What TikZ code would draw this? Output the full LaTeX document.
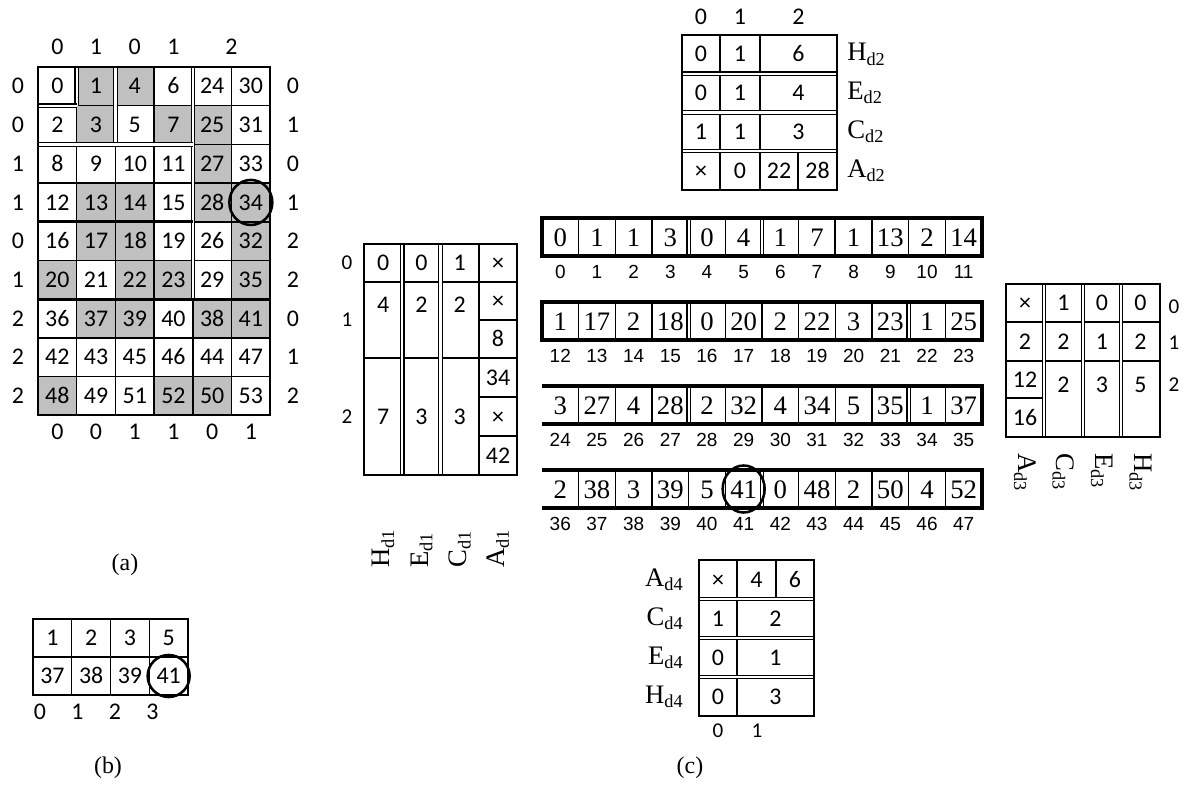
\documentclass[tikz,border=0pt]{standalone}
\usepackage{fontspec}
\setmainfont{Carlito}
\newfontfamily\serifnum{Liberation Serif}
\newfontfamily\arialnum{Liberation Sans}
\definecolor{Shade}{HTML}{C0C0C0}
\newcommand\dlab[2]{#1\raisebox{-0.35ex}{\fontsize{13}{13}\selectfont #2}}
\tikzset{
    cellnum/.style={inner sep=0pt, text height=10.8pt, text depth=0pt, font=\fontsize{17}{17}\selectfont},
    lblnum/.style={inner sep=0pt, text height=9.5pt, text depth=0pt, font=\fontsize{15}{15}\selectfont},
    arraynum/.style={inner sep=0pt, text height=12.8pt, text depth=0pt, font=\serifnum\fontsize{19}{19}\selectfont},
    idxnum/.style={inner sep=0pt, text height=9.7pt, text depth=0pt, font=\arialnum\fontsize{13.5}{13.5}\selectfont},
    dname/.style={inner sep=0pt, font=\serifnum\fontsize{19}{19}\selectfont},
    caption/.style={inner sep=0pt, font=\serifnum\fontsize{17}{17}\selectfont},
    gridline/.style={line width=1pt},
    border/.style={line width=1.5pt},
    bar/.style={line width=2.2pt},
    dbl/.style={double, double distance=1.6pt, line width=0.8pt},
    ring/.style={line width=1.8pt},
}

\begin{document}
\begin{tikzpicture}[x=0.025cm, y=-0.025cm]
    \useasboundingbox (0,0) rectangle (1183,794);

    % (a) grid
    \foreach \cc/\rr in {1/0,2/0,1/1,3/1,4/1,4/2,1/3,2/3,4/3,5/3,1/4,2/4,5/4,0/5,2/5,3/5,5/5,1/6,2/6,4/6,5/6,0/8,3/8,4/8}
        \fill[Shade] (38+\cc*38.7, 67+\rr*38.7) rectangle ++(38.7,38.7);
    \foreach \kk in {1,...,5}
        \draw[gridline] (38+\kk*38.7, 67) -- ++(0,348.3);
    \foreach \kk in {1,...,8}
        \draw[gridline] (38, 67+\kk*38.7) -- ++(232.2,0);
    \draw[dbl] (76.7,67) -- ++(0,38.7);
    \draw[dbl] (115.4,67) -- ++(0,77.4);
    \draw[dbl] (192.8,67) -- ++(0,232.2);
    \draw[dbl] (38,105.7) -- ++(38.7,0);
    \draw[dbl] (38,144.4) -- ++(154.8,0);
    \draw[bar] (38,221.8) -- ++(154.8,0);
    \draw[bar] (38,299.2) -- ++(232.2,0);
    \draw[border] (38,67) rectangle ++(232.2,348.3);
    \foreach \vals [count=\rr from 0] in {{0,1,4,6,24,30},{2,3,5,7,25,31},{8,9,10,11,27,33},{12,13,14,15,28,34},{16,17,18,19,26,32},{20,21,22,23,29,35},{36,37,39,40,38,41},{42,43,45,46,44,47},{48,49,51,52,50,53}}
        \foreach \vv [count=\cc from 0] in \vals
            \node[cellnum] (a-\rr-\cc) at (57.35+\cc*38.7, 86.35+\rr*38.7) {\vv};
    \foreach \vv [count=\rr from 0] in {0,0,1,1,0,1,2,2,2}
        \node[cellnum] (al-\rr) at (18, 86.35+\rr*38.7) {\vv};
    \foreach \vv [count=\rr from 0] in {0,1,0,1,2,2,0,1,2}
        \node[cellnum] (ar-\rr) at (293, 86.35+\rr*38.7) {\vv};
    \foreach \vv [count=\cc from 0] in {0,0,1,1,0,1}
        \node[cellnum] (ab-\cc) at (57.35+\cc*38.7, 432) {\vv};
    \foreach \vv/\xx [count=\cc] in {0/57.35,1/96.05,0/134.75,1/173.45,2/231.5}
        \node[cellnum] (at-\cc) at (\xx, 47) {\vv};
    \draw[ring] (a-3-5) ellipse [x radius=21.5, y radius=22.5];
    \node[caption] (capa) at (125,565) {(a)};

    % (b) strip
    \foreach \kk in {1,2,3}
        \draw[gridline] (33+\kk*38.75, 619) -- ++(0,76);
    \draw[gridline] (33,657) -- ++(155,0);
    \draw[border] (33,619) rectangle ++(155,76);
    \foreach \vals [count=\rr from 0] in {{1,2,3,5},{37,38,39,41}}
        \foreach \vv [count=\cc from 0] in \vals
            \node[cellnum] (b-\rr-\cc) at (52.4+\cc*38.75, 638+\rr*38) {\vv};
    \foreach \vv [count=\cc from 0] in {0,1,2,3}
        \node[cellnum] (bl-\cc) at (40+\cc*37.5, 712) {\vv};
    \draw[ring] (b-1-3) ellipse [x radius=21, y radius=21];
    \node[caption] (capb) at (108,768) {(b)};

    % (c) long arrays
    \foreach \rr in {0,...,3}
        \foreach \kk in {1,...,11}
            \draw[gridline] (542+\kk*36.67, 218+\rr*84) -- ++(0,38);
    \foreach \rr/\kk in {0/4,0/6,1/4,1/10,2/4,2/10,3/6}
        \draw[dbl] (542+\kk*36.67, 219+\rr*84) -- ++(0,36);
    \draw[border] (835.4,218) -- ++(0,38);
    \foreach \rr in {0,1}
        \draw[bar] (982,218+\rr*84) -- (542,218+\rr*84) -- (542,256+\rr*84) -- (982,256+\rr*84) -- cycle;
    \foreach \rr in {2,3}
        \draw[bar] (542,218+\rr*84) -- (982,218+\rr*84) -- (982,256+\rr*84) -- (542,256+\rr*84);
    \foreach \vals [count=\rr from 0] in {{0,1,1,3,0,4,1,7,1,13,2,14},{1,17,2,18,0,20,2,22,3,23,1,25},{3,27,4,28,2,32,4,34,5,35,1,37},{2,38,3,39,5,41,0,48,2,50,4,52}}
        \foreach \vv [count=\cc from 0] in \vals {
            \pgfmathtruncatemacro\idx{12*\rr+\cc}
            \node[arraynum] (s-\rr-\cc) at (560.3+\cc*36.67, 237+\rr*84) {\vv};
            \node[idxnum] (i-\idx) at (560.3+\cc*36.67, 272+\rr*84) {\idx};
        }
    \draw[ring] (s-3-5) ellipse [x radius=21, y radius=23.5];

    % d1 block
    \draw[gridline] (364,282) -- (517.2,282);
    \draw[gridline] (364,358) -- (517.2,358);
    \foreach \yy in {320,397,436}
        \draw[gridline] (478.9,\yy) -- (517.2,\yy);
    \draw[gridline] (478.9,244) -- (478.9,475);
    \draw[dbl] (402.3,244) -- (402.3,475);
    \draw[dbl] (440.6,244) -- (440.6,475);
    \draw[border] (364,244) rectangle (517.2,475);
    \foreach \vv/\xx/\yy [count=\kk] in {0/383.2/263,0/421.5/263,1/459.8/263,×/498/263,4/383.2/305,2/421.5/305,2/459.8/305,×/498/301,8/498/339,7/383.2/417,3/421.5/417,3/459.8/417,34/498/377.5,×/498/416.5,42/498/455.5}
        \node[cellnum] (d1-\kk) at (\xx,\yy) {\vv};
    \foreach \vv/\yy in {0/263,1/320,2/417}
        \node[lblnum] (d1l-\vv) at (347,\yy) {\vv};
    \foreach \nm/\xx in {H/383.2,E/421.5,C/459.8,A/498}
        \node[dname, rotate=90, anchor=west] (n1-\nm) at (\xx,568) {\dlab{\nm}{d1}};

    % d2 block
    \draw[gridline] (720,35) -- (720,190);
    \draw[gridline] (760,35) -- (760,190);
    \draw[gridline] (798,151.25) -- (798,190);
    \foreach \yy in {73.75,112.5,151.25}
        \draw[dbl] (682,\yy) -- (837,\yy);
    \draw[border] (682,35) rectangle (837,190);
    \foreach \vv/\xx [count=\kk] in {0/701,1/740,2/798.5}
        \node[cellnum] (d2t-\kk) at (\xx,17) {\vv};
    \foreach \vv/\xx/\yy [count=\kk] in {0/701/54.4,1/740/54.4,6/798.5/54.4,0/701/93.1,1/740/93.1,4/798.5/93.1,1/701/131.9,1/740/131.9,3/798.5/131.9,×/701/170.6,0/740/170.6,22/779/170.6,28/817.5/170.6}
        \node[cellnum] (d2-\kk) at (\xx,\yy) {\vv};
    \foreach \nm/\yy in {H/54.4,E/93.1,C/131.9,A/170.6}
        \node[dname, anchor=west] (n2-\nm) at (847,\yy) {\dlab{\nm}{d2}};

    % d3 block
    \draw[gridline] (1006,322) -- (1160,322);
    \draw[gridline] (1006,361) -- (1160,361);
    \draw[gridline] (1006,398) -- (1044,398);
    \foreach \xx in {1044,1083,1121}
        \draw[dbl] (\xx,284) -- (\xx,437);
    \draw[border] (1006,284) rectangle (1160,437);
    \foreach \vv/\xx/\yy [count=\kk] in {×/1025/303,1/1063.5/303,0/1102/303,0/1140.5/303,2/1025/341.5,2/1063.5/341.5,1/1102/341.5,2/1140.5/341.5,12/1025/379.5,16/1025/417.5,2/1063.5/385,3/1102/385,5/1140.5/385}
        \node[cellnum] (d3-\kk) at (\xx,\yy) {\vv};
    \foreach \vv/\yy in {0/307,1/343,2/385}
        \node[lblnum] (d3l-\vv) at (1174,\yy) {\vv};
    \foreach \nm/\xx in {A/1025,C/1063.5,E/1102,H/1140.5}
        \node[dname, rotate=-90, anchor=west] (n3-\nm) at (\xx,453) {\dlab{\nm}{d3}};

    % d4 block
    \draw[gridline] (737,560) -- (737,716);
    \draw[gridline] (776,560) -- (776,599);
    \foreach \yy in {599,638,677}
        \draw[dbl] (699,\yy) -- (814,\yy);
    \draw[border] (699,560) rectangle (814,716);
    \foreach \vv/\xx/\yy [count=\kk] in {×/718/579.5,4/756.5/579.5,6/795/579.5,1/718/618.5,2/775.5/618.5,0/718/657.5,1/775.5/657.5,0/718/696.5,3/775.5/696.5}
        \node[cellnum] (d4-\kk) at (\xx,\yy) {\vv};
    \foreach \nm/\yy in {A/579.5,C/618.5,E/657.5,H/696.5}
        \node[dname, anchor=east] (n4-\nm) at (683,\yy) {\dlab{\nm}{d4}};
    \foreach \vv/\xx in {0/718,1/757}
        \node[lblnum] (d4b-\vv) at (\xx,731) {\vv};
    \node[caption] (capc) at (690,768) {(c)};
\end{tikzpicture}
\end{document}
